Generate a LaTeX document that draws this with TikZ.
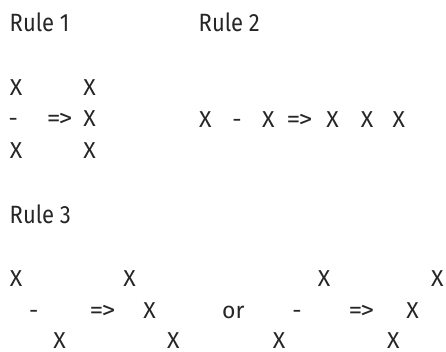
\documentclass[tikz,border=0pt]{standalone}
\usepackage{fontspec}
\setmainfont{Fira Sans}
\newfontfamily\ttlfont[FakeStretch=0.88]{Fira Sans}
\newfontfamily\arrfont[FakeStretch=1.15]{Fira Sans}
\begin{document}
\begin{tikzpicture}[x=1pt,y=-1pt,
  tok/.style={inner sep=0pt,anchor=base,font=\fontsize{23}{24}\selectfont,text=black!85},
  arr/.style={tok,font=\arrfont\fontsize{24}{24}\selectfont},
  ttl/.style={inner sep=0pt,anchor=base west,font=\ttlfont\fontsize{25}{27}\selectfont,text=black!85}]
\useasboundingbox (0,0) rectangle (446,351);
% titles
\node[ttl] (t1) at (9.5,31) {Rule 1};
\node[ttl] (t2) at (198.5,31) {Rule 2};
\node[ttl] (t3) at (9.5,223.3) {Rule 3};
% rule 1
\node[tok] (a1) at (16,95) {X};
\node[tok] (a2) at (89.7,95) {X};
\node[tok] (a3) at (13.3,126.5) {-};
\node[arr] (a4) at (59.7,126.5) {=\kern-2pt>};
\node[tok] (a5) at (89.7,126.5) {X};
\node[tok] (a6) at (16,158) {X};
\node[tok] (a7) at (89.7,158) {X};
% rule 2
\node[tok] (b1) at (205.3,127.3) {X};
\node[tok] (b2) at (237,127.3) {-};
\node[tok] (b3) at (268.3,127.3) {X};
\node[arr] (b4) at (299.5,127.3) {=\kern-2pt>};
\node[tok] (b5) at (332.5,127.3) {X};
\node[tok] (b6) at (367,127.3) {X};
\node[tok] (b7) at (398.8,127.3) {X};
% rule 3
\node[tok] (c1) at (16,286) {X};
\node[tok] (c2) at (129.7,286) {X};
\node[tok] (c3) at (324,286) {X};
\node[tok] (c4) at (437.3,286) {X};
\node[tok] (c5) at (33.7,318.3) {-};
\node[arr] (c6) at (102.5,318.3) {=\kern-2pt>};
\node[tok] (c7) at (149.7,318.3) {X};
\node[tok] (c8) at (233.3,318.3) {or};
\node[tok] (c9) at (297,318.3) {-};
\node[arr] (c10) at (361.3,318.3) {=\kern-2pt>};
\node[tok] (c11) at (412.5,318.3) {X};
\node[tok] (c12) at (59.7,348.8) {X};
\node[tok] (c13) at (173.3,348.8) {X};
\node[tok] (c14) at (279,348.8) {X};
\node[tok] (c15) at (393.3,348.8) {X};
\end{tikzpicture}
\end{document}
